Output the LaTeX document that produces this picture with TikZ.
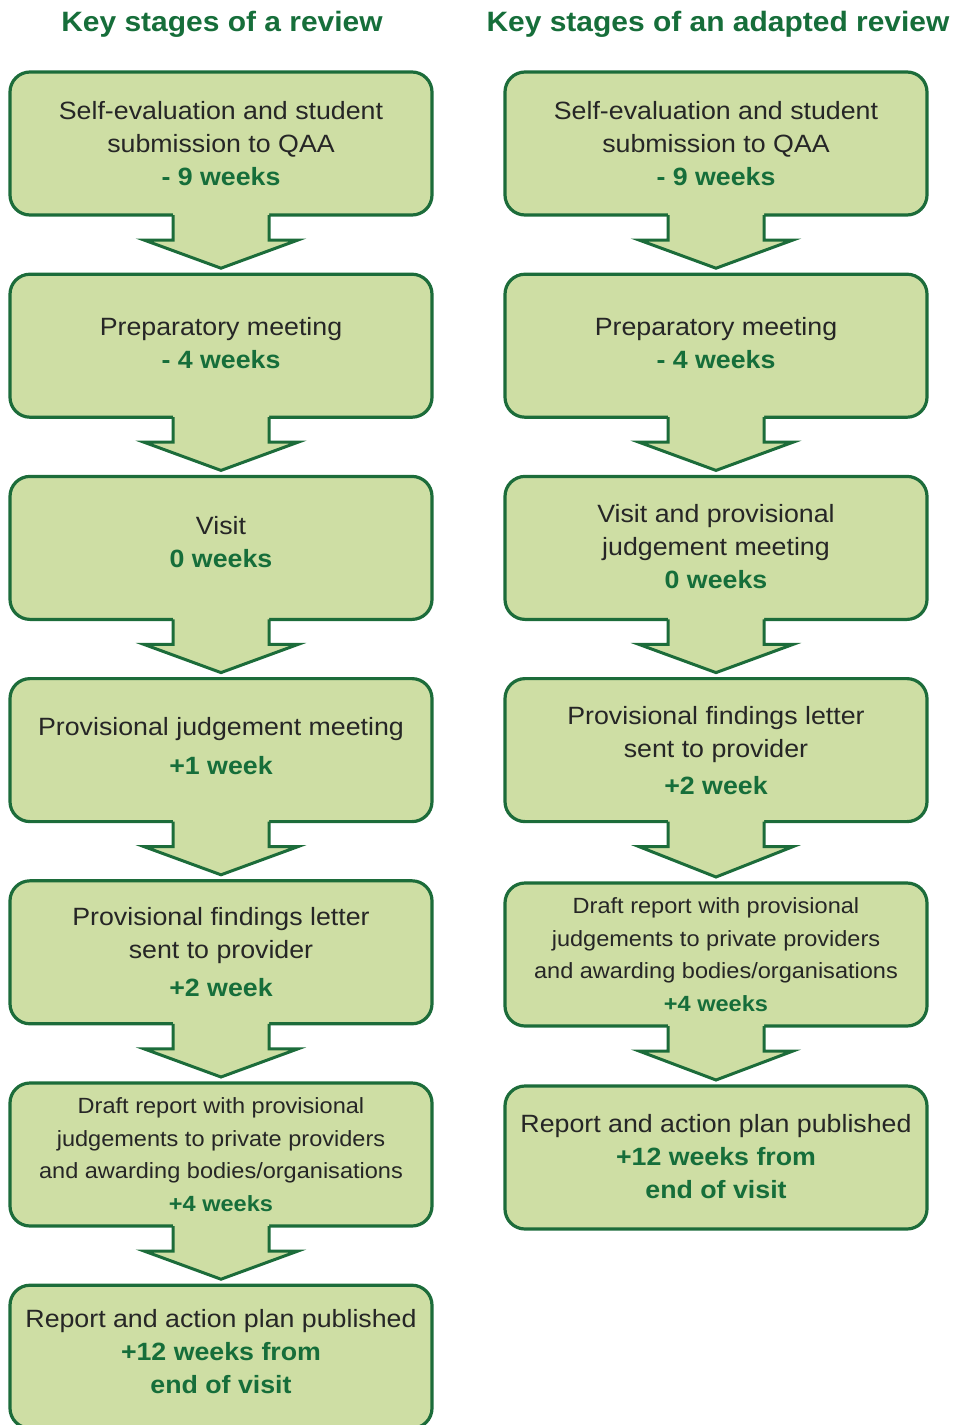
\documentclass[tikz,border=0pt]{standalone}
\usepackage{fontspec}
\setmainfont{Liberation Sans}[FakeStretch=1.07]
\usetikzlibrary{calc}
\definecolor{stagefill}{RGB}{206,222,164}
\definecolor{stageline}{RGB}{28,108,58}
\definecolor{weekgreen}{RGB}{22,110,58}
\definecolor{stagetext}{RGB}{38,38,38}
\newcommand{\wk}[1]{\textcolor{weekgreen}{\bfseries #1}}
\newcommand{\lift}[1]{\rule[-#1]{0pt}{0pt}}

\begin{document}
\begin{tikzpicture}[x=1pt, y=1pt,
	stage/.style={draw=stageline, line width=3.2pt, fill=stagefill,
		rounded corners=20pt, minimum width=422pt, minimum height=143pt,
		outer sep=0pt, inner sep=0pt, align=center, text=stagetext,
		font=\fontsize{25}{33}\selectfont},
	small/.style={font=\fontsize{22}{32.5}\selectfont},
	title/.style={text=weekgreen, font=\fontsize{28}{34}\selectfont\bfseries}]
	\useasboundingbox (0,0) rectangle (955,-1425);
	% titles
	\node[title] (0) at (222, -24) {Key stages of a review};
	\node[title] (8) at (718, -24) {Key stages of an adapted review};
	% left column
	\node[stage] (1) at (221, -143.5) {Self-evaluation and student\\submission to QAA\\\wk{- 9 weeks}};
	\node[stage] (2) at (221, -345.7) {Preparatory meeting\\\wk{- 4 weeks}\lift{6pt}};
	\node[stage] (3) at (221, -547.9) {Visit\\\wk{0 weeks}\lift{12pt}};
	\node[stage] (4) at (221, -750.1) {Provisional judgement meeting\\[6pt]\wk{+1 week}\lift{8pt}};
	\node[stage] (5) at (221, -952.3) {Provisional findings letter\\sent to provider\\[5pt]\wk{+2 week}};
	\node[stage, small] (6) at (221, -1154.5) {Draft report with provisional\\judgements to private providers\\and awarding bodies/organisations\\\wk{+4 weeks}};
	\node[stage] (7) at (221, -1356.7) {Report and action plan published\\\wk{+12 weeks from}\\\wk{end of visit}\lift{10pt}};
	% right column
	\node[stage] (9) at (716, -143.5) {Self-evaluation and student\\submission to QAA\\\wk{- 9 weeks}};
	\node[stage] (10) at (716, -345.7) {Preparatory meeting\\\wk{- 4 weeks}\lift{6pt}};
	\node[stage] (11) at (716, -547.9) {Visit and provisional\\judgement meeting\\\wk{0 weeks}\lift{3pt}};
	\node[stage] (12) at (716, -750.1) {Provisional findings letter\\sent to provider\\[4pt]\wk{+2 week}};
	\node[stage, small] (13) at (716, -954.5) {Draft report with provisional\\judgements to private providers\\and awarding bodies/organisations\\\wk{+4 weeks}};
	\node[stage] (14) at (716, -1157.5) {Report and action plan published\\\wk{+12 weeks from}\\\wk{end of visit}\lift{2pt}};
	% block arrows
	\foreach \a/\b in {1/2, 2/3, 3/4, 4/5, 5/6, 6/7, 9/10, 10/11, 11/12, 12/13, 13/14} {
		\path (\a.south) coordinate (s) ([yshift=6pt]\b.north) coordinate (t);
		\fill[stagefill] ($(s)+(-48,3)$) -- ($(s)+(-48,-25)$) -- ($(s)+(-77,-25)$) -- (t)
			-- ($(s)+(77,-25)$) -- ($(s)+(48,-25)$) -- ($(s)+(48,3)$) -- cycle;
		\draw[stageline, line width=3pt] ($(s)+(-48,0)$) -- ($(s)+(-48,-25)$) -- ($(s)+(-77,-25)$) -- (t)
			-- ($(s)+(77,-25)$) -- ($(s)+(48,-25)$) -- ($(s)+(48,0)$);
	}
\end{tikzpicture}
\end{document}
